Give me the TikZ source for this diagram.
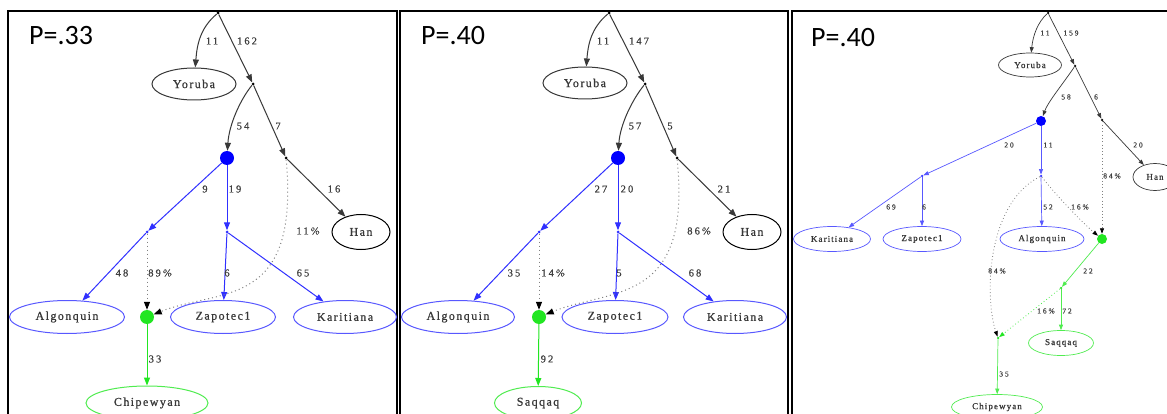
\documentclass[tikz,border=0pt]{standalone}
\usepackage{fontspec}
\setmainfont{Liberation Serif}
\newfontfamily\pfont{Carlito}
\newfontfamily\lblfont[LetterSpace=20,FakeBold=0.6]{Liberation Serif}
\newfontfamily\ndfont[LetterSpace=12,FakeBold=0.8]{Liberation Serif}
\newfontfamily\slblfont[LetterSpace=25,FakeBold=0.5]{Liberation Serif}
\usetikzlibrary{shapes.geometric,arrows.meta}
\definecolor{gblue}{HTML}{3030FF}
\definecolor{lblue}{HTML}{5858FF}
\definecolor{ggreen}{HTML}{22E622}
\definecolor{lgreen}{HTML}{50EC50}
\definecolor{ggray}{HTML}{383838}
\definecolor{lblgray}{HTML}{404040}
\begin{document}
\begin{tikzpicture}[x=1pt,y=-1pt,
  frame/.style={draw=black,line width=1.1pt},
  ptitle/.style={font=\pfont\fontsize{28}{28}\selectfont,anchor=base west,inner sep=0},
  lbl/.style={font=\lblfont\fontsize{10.5}{10.5}\selectfont,text=lblgray,inner sep=0},
  slbl/.style={font=\slblfont\fontsize{7.5}{7.5}\selectfont,text=lblgray,inner sep=0},
  ell/.style={ellipse,draw=ggray,inner sep=0,minimum height=33,line width=1pt,font=\ndfont\fontsize{12}{12}\selectfont,text=ggray},
  sell/.style={ellipse,draw=ggray,inner sep=0,minimum height=25,line width=0.7pt,font=\ndfont\fontsize{9}{9}\selectfont,text=ggray},
  bell/.style={draw=lblue},
  gell/.style={draw=lgreen},
  pt/.style={circle,fill=black,inner sep=0,minimum size=3},
  bpt/.style={circle,fill=gblue,inner sep=0,minimum size=3},
  gpt/.style={circle,fill=ggreen,inner sep=0,minimum size=3},
  bignode/.style={circle,fill=#1,inner sep=0,minimum size=14},
  smallbig/.style={circle,fill=#1,inner sep=0,minimum size=10},
  tip/.style={-{Triangle[length=8pt,width=6pt]}},
  stip/.style={-{Triangle[length=5.5pt,width=4pt]}},
  eblk/.style={draw=ggray,line width=1pt,tip},
  eblu/.style={draw=gblue,line width=1pt,tip},
  egrn/.style={draw=ggreen,line width=1pt,tip},
  edot/.style={draw=gray,line width=1pt,dash pattern=on 1pt off 3pt,-{Triangle[length=8pt,width=6pt,color=black]}},
  seblk/.style={draw=ggray,line width=0.7pt,stip},
  seblu/.style={draw=lblue,line width=0.7pt,stip},
  segrn/.style={draw=lgreen,line width=0.7pt,stip},
  sedot/.style={draw=gray,line width=0.8pt,dash pattern=on 0.8pt off 2.5pt,-{Triangle[length=5.5pt,width=4pt,color=black]}},
  sedotg/.style={draw=lgreen,line width=0.8pt,dash pattern=on 0.8pt off 2.5pt,-{Triangle[length=5.5pt,width=4pt,color=ggreen]}},
]
\useasboundingbox (0,0) rectangle (1167,414);
\fill[white] (0,0) rectangle (1167,414);

% ===== frames =====
\draw[frame] (8,11) rectangle (397,430);
\draw[frame] (400,11) rectangle (788,430);
\draw[frame] (792,11) rectangle (1180,430);

\node[ptitle] (t1) at (29,45) {P=.33};
\node[ptitle] (t2) at (421,45) {P=.40};
\node[ptitle] (t3) at (811,47) {P=.40};

% ===== panel 1 =====
\node[pt] (r1) at (218,13) {};
\node[pt] (n11) at (253,84) {};
\node[pt] (n12) at (286,158) {};
\node[bignode=blue] (B1) at (227,158) {};
\node[bpt] (b11) at (147,232) {};
\node[bpt] (b12) at (227,232) {};
\node[bignode=ggreen] (G1) at (147,317) {};
\node[ell,minimum width=84,minimum height=32] (y1) at (194,84) {Yoruba};
\node[ell,minimum width=58,minimum height=35,draw=black] (h1) at (361,232) {Han};
\node[ell,bell,minimum width=115] (a1) at (67,317) {Algonquin};
\node[ell,bell,minimum width=105] (z1) at (223,317) {Zapotec1};
\node[ell,bell,minimum width=103] (k1) at (345,317) {Karitiana};
\node[ell,gell,minimum width=122,minimum height=34] (c1) at (147,403) {Chipewyan};

\draw[eblk] (r1) .. controls (200,28) and (197,45) .. (y1);
\draw[eblk] (r1) -- (n11);
\draw[eblk] (n11) .. controls (240,100) and (229,125) .. (B1);
\draw[eblk] (n11) -- (n12);
\draw[eblk] (n12) -- (h1);
\draw[eblu] (B1) -- (b11);
\draw[eblu] (B1) -- (b12);
\draw[eblu] (b11) -- (a1);
\draw[eblu] (b12) -- (z1);
\draw[eblu] (b12) -- (k1);
\draw[edot] (b11) -- (G1);
\draw[edot] (n12) .. controls (300,310) and (220,288) .. (G1);
\draw[egrn] (G1) -- (c1);

\node[lbl] (l101) at (212,41) {11};
\node[lbl] (l102) at (247,41) {162};
\node[lbl] (l103) at (243,126) {54};
\node[lbl] (l104) at (278,126) {7};
\node[lbl] (l105) at (205,189) {9};
\node[lbl] (l106) at (235,189) {19};
\node[lbl] (l107) at (334,189) {16};
\node[lbl] (l108) at (308,231) {11\%};
\node[lbl] (l109) at (122,273) {48};
\node[lbl] (l110) at (160,273) {89\%};
\node[lbl] (l111) at (227,273) {6};
\node[lbl] (l112) at (303,273) {65};
\node[lbl] (l113) at (155,359) {33};

% ===== panel 2 =====
\node[pt] (r2) at (609,13) {};
\node[pt] (n21) at (645,84) {};
\node[pt] (n22) at (677,158) {};
\node[bignode=blue] (B2) at (618,158) {};
\node[bpt] (b21) at (539,232) {};
\node[bpt] (b22) at (618,232) {};
\node[bignode=ggreen] (G2) at (539,317) {};
\node[ell,minimum width=84,minimum height=32] (y2) at (585,83) {Yoruba};
\node[ell,minimum width=58,minimum height=35,draw=black] (h2) at (752,232) {Han};
\node[ell,bell,minimum width=113] (a2) at (458,317) {Algonquin};
\node[ell,bell,minimum width=106] (z2) at (615,317) {Zapotec1};
\node[ell,bell,minimum width=103] (k2) at (735,317) {Karitiana};
\node[ell,gell,minimum width=87,minimum height=33] (s2) at (538,403) {Saqqaq};

\draw[eblk] (r2) .. controls (591,28) and (588,45) .. (y2);
\draw[eblk] (r2) -- (n21);
\draw[eblk] (n21) .. controls (632,100) and (620,125) .. (B2);
\draw[eblk] (n21) -- (n22);
\draw[eblk] (n22) -- (h2);
\draw[eblu] (B2) -- (b21);
\draw[eblu] (B2) -- (b22);
\draw[eblu] (b21) -- (a2);
\draw[eblu] (b22) -- (z2);
\draw[eblu] (b22) -- (k2);
\draw[edot] (b21) -- (G2);
\draw[edot] (n22) .. controls (692,305) and (612,288) .. (G2);
\draw[egrn] (G2) -- (s2);

\node[lbl] (l201) at (603,41) {11};
\node[lbl] (l202) at (639,41) {147};
\node[lbl] (l203) at (635,126) {57};
\node[lbl] (l204) at (670,126) {5};
\node[lbl] (l205) at (601,189) {27};
\node[lbl] (l206) at (627,189) {20};
\node[lbl] (l207) at (724,189) {21};
\node[lbl] (l208) at (699,231) {86\%};
\node[lbl] (l209) at (514,273) {35};
\node[lbl] (l210) at (553,273) {14\%};
\node[lbl] (l211) at (619,273) {5};
\node[lbl] (l212) at (695,273) {68};
\node[lbl] (l213) at (547,359) {92};

% ===== panel 3 =====
\node[pt,minimum size=2.5] (r3) at (1048,13) {};
\node[pt,minimum size=2.5] (n31) at (1075,66) {};
\node[pt,minimum size=2.5] (n32) at (1102,120) {};
\node[smallbig=blue] (B3) at (1041,121) {};
\node[bpt,minimum size=2.5] (c31) at (922,176) {};
\node[bpt,minimum size=2.5] (c32) at (1041,176) {};
\node[smallbig=ggreen] (G3) at (1102,239) {};
\node[gpt,minimum size=2.5] (g31) at (1061,288) {};
\node[gpt,minimum size=2.5] (G32) at (998,338) {};
\node[sell,minimum width=63,minimum height=24] (y3) at (1030,65) {Yoruba};
\node[sell,minimum width=44,minimum height=27] (h3) at (1155,177) {Han};
\node[sell,bell,minimum width=77] (k3) at (832,239) {Karitiana};
\node[sell,bell,minimum width=78] (z3) at (922,239) {Zapotec1};
\node[sell,bell,minimum width=84] (a3) at (1042,239) {Algonquin};
\node[sell,gell,minimum width=65] (s3) at (1061,343) {Saqqaq};
\node[sell,gell,minimum width=91] (c3) at (997,407) {Chipewyan};

\draw[seblk] (r3) .. controls (1038,22) and (1033,35) .. (y3);
\draw[seblk] (r3) -- (n31);
\draw[seblk] (n31) .. controls (1062,85) and (1048,102) .. (B3);
\draw[seblk] (n31) -- (n32);
\draw[seblk] (n32) -- (h3);
\draw[seblu] (B3) -- (c31);
\draw[seblu] (B3) -- (c32);
\draw[seblu] (c31) -- (k3);
\draw[seblu] (c31) -- (z3);
\draw[seblu] (c32) -- (a3);
\draw[sedot] (n32) -- (G3);
\draw[sedot] (c32) .. controls (1060,200) and (1085,225) .. (G3);
\draw[sedot] (c32) .. controls (985,205) and (985,300) .. (G32);
\draw[segrn] (G3) -- (g31);
\draw[segrn] (g31) -- (s3);
\draw[sedotg] (g31) -- (G32);
\draw[segrn] (G32) -- (c3);

\node[slbl] (l301) at (1045,33) {11};
\node[slbl] (l302) at (1071,33) {159};
\node[slbl] (l303) at (1066,97) {58};
\node[slbl] (l304) at (1096,97) {6};
\node[slbl] (l305) at (1009,145) {20};
\node[slbl] (l306) at (1048,145) {11};
\node[slbl] (l307) at (1138,145) {20};
\node[slbl] (l308) at (1112,176) {84\%};
\node[slbl] (l309) at (891,207) {69};
\node[slbl] (l310) at (924,207) {6};
\node[slbl] (l311) at (1048,207) {52};
\node[slbl] (l312) at (1080,207) {16\%};
\node[slbl] (l313) at (997,271) {84\%};
\node[slbl] (l314) at (1088,271) {22};
\node[slbl] (l315) at (1046,311) {16\%};
\node[slbl] (l316) at (1067,311) {72};
\node[slbl] (l317) at (1004,374) {35};
\end{tikzpicture}
\end{document}
